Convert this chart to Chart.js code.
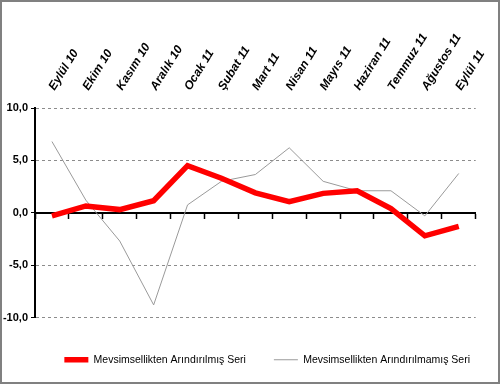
<!DOCTYPE html>
<html>
<head>
<meta charset="utf-8">
<script src="https://cdn.jsdelivr.net/npm/chart.js@4/dist/chart.umd.min.js"></script>
<style>
  body { margin: 0; background: #fff; }
  #frame { width: 500px; height: 384px; box-sizing: border-box; border: 2px solid #808080; position: relative; }
  #chart { position: absolute; left: 0; top: 0; }
</style>
</head>
<body>
<div id="frame"><canvas id="chart" width="496" height="380"></canvas></div>
<script>
// months, Sep 2010 - Sep 2011
const months = ['Eylül 10', 'Ekim 10', 'Kasım 10', 'Aralık 10', 'Ocak 11', 'Şubat 11', 'Mart 11',
  'Nisan 11', 'Mayıs 11', 'Haziran 11', 'Temmuz 11', 'Ağustos 11', 'Eylül 11'];

// seasonally adjusted series (thick red)
const adjusted = [-0.3, 0.65, 0.3, 1.15, 4.5, 3.3, 1.9, 1.05, 1.85, 2.1, 0.4, -2.2, -1.3];
// not adjusted series (thin gray)
const unadjusted = [6.8, 1.2, -2.7, -8.8, 0.75, 3.0, 3.65, 6.2, 3.0, 2.1, 2.1, -0.3, 3.75];

const yTicks = [-10, -5, 0, 5, 10];

const fmt = v => v.toFixed(1).replace('.', ',');
const FONT = '"Liberation Sans", Arial, sans-serif';

// invisible axis, only used to reserve space around the plot
const spacer = (position, size) => ({
  type: 'linear',
  position: position,
  display: true,
  ticks: { display: false },
  grid: { display: false, drawTicks: false },
  border: { display: false },
  afterFit: s => {
    if (position === 'bottom') s.height = size; else s.width = size;
  }
});

new Chart(document.getElementById('chart'), {
  type: 'line',
  data: {
    labels: months,
    datasets: [
      {
        label: 'Mevsimsellikten Arındırılmış Seri',
        data: adjusted,
        xAxisID: 'x',
        yAxisID: 'y',
        borderColor: '#ff0000',
        backgroundColor: '#ff0000',
        borderWidth: 5.5,
        pointRadius: 0,
        tension: 0
      },
      {
        label: 'Mevsimsellikten Arındırılmamış Seri',
        data: unadjusted,
        xAxisID: 'x',
        yAxisID: 'y',
        borderColor: '#9a9a9a',
        backgroundColor: '#9a9a9a',
        borderWidth: 1,
        pointRadius: 0,
        tension: 0
      }
    ]
  },
  options: {
    responsive: false,
    animation: false,
    layout: { padding: { left: 0, right: 0, top: 0, bottom: 7 } },
    plugins: {
      tooltip: { enabled: false },
      legend: {
        position: 'bottom',
        align: 'end',
        labels: {
          usePointStyle: true,
          pointStyle: 'line',
          pointStyleWidth: 24,
          padding: 28,
          color: '#000',
          font: { family: FONT, size: 10.5 }
        }
      }
    },
    scales: {
      x: {
        position: { y: 0 },
        offset: true,
        ticks: { display: false },
        grid: { display: true, drawOnChartArea: false, offset: true, tickLength: 5, tickColor: '#000', tickWidth: 1.5 },
        border: { display: true, color: '#000', width: 2 }
      },
      y: {
        min: -10,
        max: 10,
        afterBuildTicks: s => { s.ticks = yTicks.map(v => ({ value: v })); },
        afterFit: s => { s.width = 33; },
        ticks: {
          padding: 3,
          color: '#000',
          callback: v => fmt(v),
          font: { family: FONT, size: 11, weight: 'bold' }
        },
        grid: {
          color: c => c.tick && c.tick.value === 0 ? 'rgba(0,0,0,0)' : '#8c8c8c',
          tickColor: '#000',
          tickLength: 4,
          lineWidth: 1
        },
        border: { display: true, color: '#000', width: 2, dash: [3, 3] }
      },
      x2: {
        type: 'category',
        labels: months,
        position: 'top',
        offset: true,
        grid: { display: false, drawTicks: false },
        border: { display: false },
        ticks: {
          autoSkip: false,
          minRotation: 58,
          maxRotation: 58,
          padding: 15,
          labelOffset: 12,
          color: '#000',
          font: { family: FONT, size: 12, style: 'italic', weight: 'bold' }
        },
        afterFit: s => { s.height = 106; }
      },
      xb: spacer('bottom', 9),
      yr: spacer('right', 18)
    }
  }
});
</script>
</body>
</html>
